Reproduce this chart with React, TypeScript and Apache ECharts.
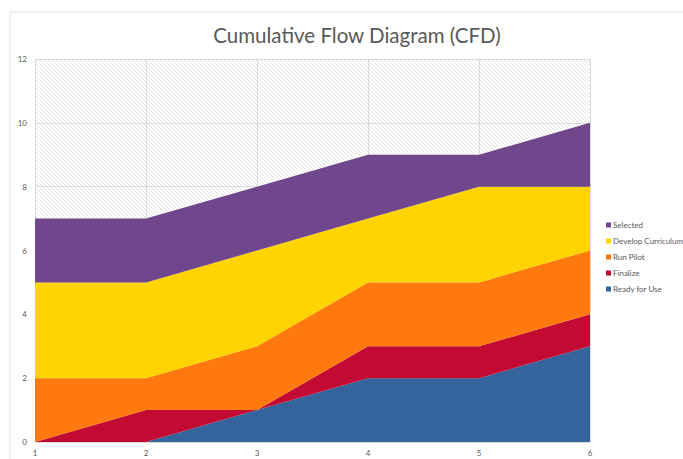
import React, { useEffect, useRef } from "react";
import * as echarts from "echarts";

const categories = ["1", "2", "3", "4", "5", "6"];
// per-stage increments (stacked), bottom to top
const readyForUse = [0, 0, 1, 2, 2, 3];
const finalize = [0, 1, 0, 1, 1, 1];
const runPilot = [2, 1, 2, 2, 2, 2];
const developCurriculum = [3, 3, 3, 2, 3, 2];
const selected = [2, 2, 2, 2, 1, 2];

const seriesNames = ["Ready for Use", "Finalize", "Run Pilot", "Develop Curriculum", "Selected"];
const seriesValues = [readyForUse, finalize, runPilot, developCurriculum, selected];
const seriesColors = ["#35639B", "#C20A33", "#FF790E", "#FFD400", "#70468D"];
const legendOrder = ["Selected", "Develop Curriculum", "Run Pilot", "Finalize", "Ready for Use"];

function makeHatch(): HTMLCanvasElement {
  const c = document.createElement("canvas");
  c.width = 4;
  c.height = 4;
  const ctx = c.getContext("2d")!;
  ctx.fillStyle = "#ffffff";
  ctx.fillRect(0, 0, 4, 4);
  ctx.fillStyle = "#e4e4e4";
  for (let i = 0; i < 4; i++) ctx.fillRect(i, i, 1, 1);
  return c;
}

export default function App() {
  const ref = useRef<HTMLDivElement>(null);
  useEffect(() => {
    if (!ref.current) return;
    const chart = echarts.init(ref.current, undefined, { renderer: "svg" });
    const font = "Lato, 'Open Sans', sans-serif";
    chart.setOption({
      animation: false,
      backgroundColor: "#ffffff",
      textStyle: { fontFamily: font },
      title: {
        text: "Cumulative Flow Diagram (CFD)",
        left: 352,
        textAlign: "center",
        top: 19,
        textStyle: { fontFamily: font, fontSize: 20.5, fontWeight: "normal", color: "#595959" },
      },
      graphic: [
        {
          type: "rect",
          shape: { x: 10, y: 12, width: 700, height: 470 },
          style: { fill: "none", stroke: "#e0e0e0", lineWidth: 1 },
          silent: true,
          z: -10,
        },
      ],
      grid: {
        left: 35,
        right: 93,
        top: 59,
        bottom: 17,
        show: true,
        borderWidth: 0,
        backgroundColor: { image: makeHatch(), repeat: "repeat" },
      },
      legend: {
        orient: "vertical",
        left: 601,
        top: 215,
        itemWidth: 5,
        itemHeight: 5,
        itemGap: 6,
        icon: "rect",
        data: legendOrder,
        textStyle: { fontFamily: font, fontSize: 8, color: "#595959", lineHeight: 10, padding: [0, 0, 0, -3] },
      },
      xAxis: {
        type: "category",
        boundaryGap: false,
        data: categories,
        axisLine: { show: true, lineStyle: { color: "#d9d9d9" } },
        axisTick: { show: false },
        axisLabel: { fontSize: 8, color: "#595959", margin: 7 },
        splitLine: { show: true, lineStyle: { color: "#d9d9d9" } },
      },
      yAxis: {
        type: "value",
        min: 0,
        max: 12,
        interval: 2,
        axisLine: { show: false },
        axisTick: { show: false },
        axisLabel: { fontSize: 8, color: "#595959", margin: 8 },
        splitLine: { show: true, lineStyle: { color: "#d9d9d9" } },
      },
      series: seriesNames.map((name, i) => ({
        name,
        type: "line",
        stack: "cfd",
        data: seriesValues[i],
        showSymbol: false,
        symbol: "none",
        lineStyle: { width: 0 },
        itemStyle: { color: seriesColors[i] },
        areaStyle: { color: seriesColors[i], opacity: 1 },
      })),
    });
    return () => chart.dispose();
  }, []);
  return (
    <div
      ref={ref}
      style={{ position: "absolute", left: 0, top: 0, width: 683, height: 459 }}
    />
  );
}
